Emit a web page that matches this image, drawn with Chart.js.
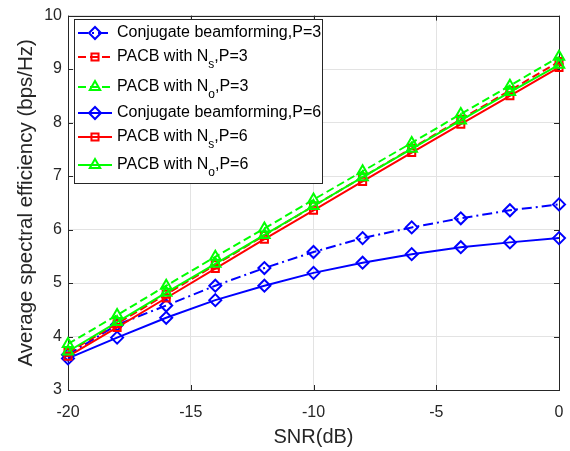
<!DOCTYPE html>
<html>
<head>
<meta charset="utf-8">
<script src="https://cdn.jsdelivr.net/npm/chart.js@4.4.0/dist/chart.umd.min.js"></script>
<style>
  html, body { margin: 0; padding: 0; background: #fff; }
  #wrap { width: 570px; height: 451px; }
</style>
</head>
<body>
<div id="wrap"><canvas id="chart" width="570" height="451"></canvas></div>
<script>
// SNR points (dB) and spectral efficiency curves
const snrDb = [-20, -18, -16, -14, -12, -10, -8, -6, -4, -2, 0];
const conjP3 = [3.66, 4.22, 4.58, 4.95, 5.28, 5.58, 5.84, 6.04, 6.21, 6.36, 6.47];
const pacbNsP3 = [3.70, 4.24, 4.79, 5.34, 5.89, 6.44, 6.98, 7.52, 8.06, 8.60, 9.14];
const pacbNoP3 = [3.86, 4.40, 4.95, 5.49, 6.02, 6.56, 7.09, 7.62, 8.16, 8.69, 9.23];
const conjP6 = [3.59, 3.98, 4.35, 4.68, 4.95, 5.19, 5.38, 5.54, 5.67, 5.76, 5.84];
const pacbNsP6 = [3.63, 4.17, 4.72, 5.27, 5.82, 6.36, 6.90, 7.44, 7.97, 8.50, 9.03];
const pacbNoP6 = [3.72, 4.27, 4.82, 5.36, 5.90, 6.44, 6.98, 7.51, 8.04, 8.57, 9.08];

const xTicks = [-20, -15, -10, -5, 0];
const yTicks = [3, 4, 5, 6, 7, 8, 9, 10];

// legend text split as [before subscript, subscript, after]
const seriesNames = [
  ['Conjugate beamforming,P=3', '', ''],
  ['PACB with N', 's', ',P=3'],
  ['PACB with N', 'o', ',P=3'],
  ['Conjugate beamforming,P=6', '', ''],
  ['PACB with N', 's', ',P=6'],
  ['PACB with N', 'o', ',P=6']
];

const FONT = 'Liberation Sans, Arial, Helvetica, sans-serif';
const AXIS_COLOR = '#262626';

const BLUE = '#0000ff';
const RED = '#ff0000';
const GREEN = '#00ff00';
const DASHDOT = [10, 4, 2, 4];
const DASHED = [8, 4];

function makeSeries(idx, data, color, dash, marker, radius) {
  return {
    label: seriesNames[idx].join(''),
    data: data.map((v, k) => ({ x: snrDb[k], y: v })),
    borderColor: color,
    borderWidth: 2,
    borderDash: dash,
    pointStyle: marker,
    pointRadius: radius,
    pointHoverRadius: radius,
    pointBorderColor: color,
    pointBackgroundColor: 'rgba(0,0,0,0)',
    pointBorderWidth: 2,
    tension: 0,
    fill: false,
    clip: 12,
    order: 6 - idx
  };
}

const datasets = [
  makeSeries(0, conjP3, BLUE, DASHDOT, 'rectRot', 6),
  makeSeries(1, pacbNsP3, RED, DASHED, 'rect', 5),
  makeSeries(2, pacbNoP3, GREEN, DASHED, 'triangle', 6),
  makeSeries(3, conjP6, BLUE, [], 'rectRot', 6),
  makeSeries(4, pacbNsP6, RED, [], 'rect', 5),
  makeSeries(5, pacbNoP6, GREEN, [], 'triangle', 6)
];

// MATLAB-like box with inward ticks
const axesBox = {
  id: 'axesBox',
  beforeDatasetsDraw(chart) {
    const { ctx, chartArea: a, scales } = chart;
    ctx.save();
    ctx.strokeStyle = AXIS_COLOR;
    ctx.lineWidth = 1;
    ctx.beginPath();
    xTicks.forEach(v => {
      const px = Math.round(scales.x.getPixelForValue(v)) + 0.5;
      ctx.moveTo(px, a.bottom); ctx.lineTo(px, a.bottom - 5);
      ctx.moveTo(px, a.top); ctx.lineTo(px, a.top + 5);
    });
    yTicks.forEach(v => {
      const py = Math.round(scales.y.getPixelForValue(v)) + 0.5;
      ctx.moveTo(a.left, py); ctx.lineTo(a.left + 5, py);
      ctx.moveTo(a.right, py); ctx.lineTo(a.right - 5, py);
    });
    ctx.stroke();
    ctx.strokeRect(Math.round(a.left) + 0.5, Math.round(a.top) + 0.5,
      Math.round(a.right - a.left), Math.round(a.bottom - a.top));
    ctx.restore();
  }
};

// legend box drawn by hand so the subscripts work
const legendRows = [33, 57, 87, 113, 137, 165];
const subLegend = {
  id: 'subLegend',
  afterDraw(chart) {
    const { ctx } = chart;
    const box = { x: 74, y: 19, w: 248, h: 164 };
    ctx.save();
    ctx.fillStyle = '#fff';
    ctx.fillRect(box.x, box.y, box.w, box.h);
    ctx.strokeStyle = AXIS_COLOR;
    ctx.lineWidth = 1;
    ctx.strokeRect(box.x + 0.5, box.y + 0.5, box.w, box.h);

    chart.data.datasets.forEach((ds, i) => {
      const y = legendRows[i];
      ctx.save();
      ctx.strokeStyle = ds.borderColor;
      ctx.fillStyle = 'rgba(0,0,0,0)';
      ctx.lineWidth = 2;
      ctx.setLineDash(ds.borderDash);
      ctx.beginPath();
      ctx.moveTo(78, y);
      ctx.lineTo(112, y);
      ctx.stroke();
      ctx.setLineDash([]);
      Chart.helpers.drawPoint(ctx, {
        pointStyle: ds.pointStyle,
        radius: ds.pointRadius,
        rotation: 0,
        borderWidth: 2
      }, 95, y);
      ctx.restore();

      const [main, sub, rest] = seriesNames[i];
      ctx.fillStyle = '#000';
      ctx.textBaseline = 'middle';
      ctx.font = '16px ' + FONT;
      let tx = 117;
      ctx.fillText(main, tx, y);
      tx += ctx.measureText(main).width;
      if (sub) {
        ctx.font = '12px ' + FONT;
        ctx.fillText(sub, tx, y + 8);
        tx += ctx.measureText(sub).width;
        ctx.font = '16px ' + FONT;
        ctx.fillText(rest, tx, y);
      }
    });
    ctx.restore();
  }
};

new Chart(document.getElementById('chart'), {
  type: 'line',
  data: { datasets: datasets },
  options: {
    responsive: false,
    animation: false,
    devicePixelRatio: 1,
    layout: { autoPadding: false, padding: { left: 0, right: 11, top: 10, bottom: 0 } },
    plugins: { legend: { display: false }, tooltip: { enabled: false } },
    scales: {
      x: {
        type: 'linear',
        min: -20,
        max: 0,
        afterFit: s => { s.height = 61; s.paddingLeft = 0; s.paddingRight = 0; },
        afterBuildTicks: s => { s.ticks = xTicks.map(v => ({ value: v })); },
        grid: { color: '#e3e3e3', drawTicks: false },
        border: { display: false },
        ticks: { color: AXIS_COLOR, padding: 13, font: { size: 16, family: FONT } },
        title: { display: true, text: 'SNR(dB)', color: AXIS_COLOR, padding: { top: 0 }, font: { size: 20, family: FONT, lineHeight: 1 } }
      },
      y: {
        type: 'linear',
        min: 3,
        max: 10,
        afterFit: s => { s.width = 68; },
        afterBuildTicks: s => { s.ticks = yTicks.map(v => ({ value: v })); },
        grid: { color: '#e3e3e3', drawTicks: false },
        border: { display: false },
        ticks: { color: AXIS_COLOR, padding: 6, font: { size: 16, family: FONT } },
        title: { display: true, text: 'Average spectral efficiency (bps/Hz)', color: AXIS_COLOR, padding: { top: 14 }, font: { size: 20.5, family: FONT } }
      }
    }
  },
  plugins: [axesBox, subLegend]
});
</script>
</body>
</html>
